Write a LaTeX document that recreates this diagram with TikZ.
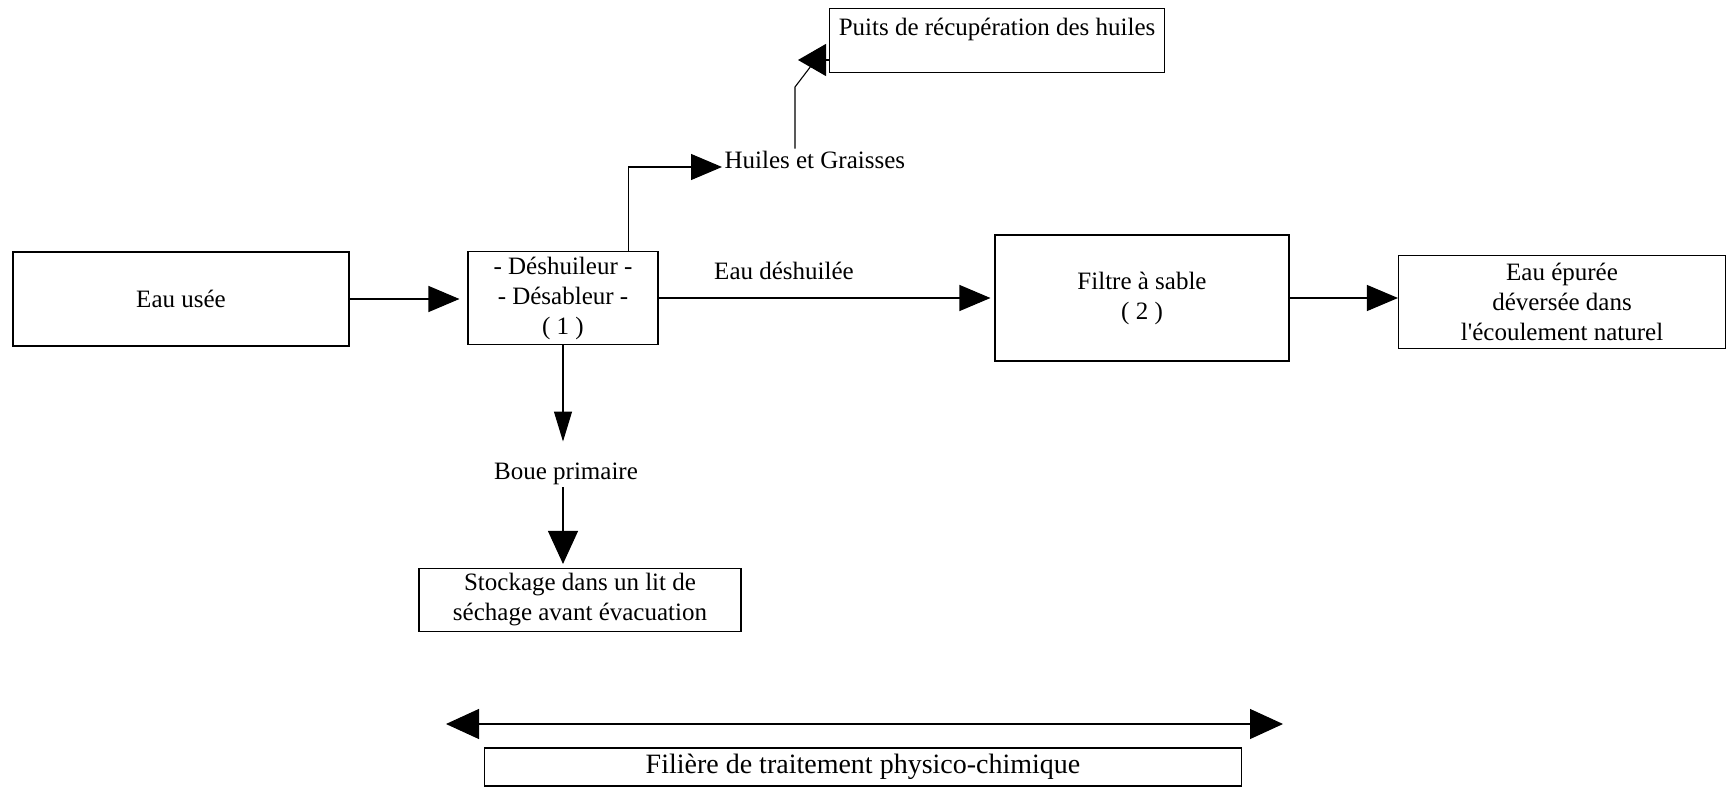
\documentclass[tikz,border=0pt]{standalone}
\usepackage{fontspec}
\setmainfont{Liberation Serif}
\usetikzlibrary{arrows.meta}

\begin{document}
\begin{tikzpicture}[x=1pt, y=-1pt, line width=1.1pt,
    font=\fontsize{25}{30}\selectfont,
    fleche/.style={-{Triangle[length=31pt, width=26pt]}},
    boite/.style={draw, inner sep=0pt, align=center},
    etiq/.style={inner sep=2pt}]
  \useasboundingbox (0,0) rectangle (1727,789);
  % blocs
  \node[boite, minimum width=336pt, minimum height=94pt] (usee) at (181,299) {Eau usée};
  \node[boite, minimum width=190pt, minimum height=93pt] (desh) at (563,298) {- Déshuileur -\\- Désableur -\\( 1 )};
  \node[boite, minimum width=294pt, minimum height=126pt] (filtre) at (1142,298) {Filtre à sable\\( 2 )};
  \node[boite, minimum width=327pt, minimum height=93pt] (epure) at (1562,302)
    {Eau épurée\\déversée dans\\l\textquotesingle écoulement naturel};
  \node[boite, anchor=north west, minimum width=335pt, text height=27pt, text depth=37pt] (puits) at (829,8)
    {Puits de récupération des huiles};
  \node[boite, minimum width=322pt, minimum height=63pt] (stock) at (580,600)
    {Stockage dans un lit de\\séchage avant évacuation};
  \node[boite, minimum width=757pt, minimum height=38pt, font=\fontsize{28}{33}\selectfont] (filiere) at (863,767)
    {Filière de traitement physico-chimique};
  % etiquettes
  \node[etiq] (edesh) at (784,271) {Eau déshuilée};
  \node[etiq, anchor=west] (hg) at (722,160) {Huiles et Graisses};
  \node[etiq] (boue) at (566,474) {Boue primaire};
  % liaisons
  \draw[fleche, shorten >=8pt] (usee.east) -- (usee.east -| desh.west);
  \draw[fleche, shorten >=4pt] (desh.east) -- (desh.east -| filtre.west);
  \draw[fleche] (filtre.east) -- (filtre.east -| epure.west);
  \draw[fleche] ([xshift=-30pt]desh.north east) |- ([yshift=-7pt]hg.west);
  \coordinate (coude) at (795,87);
  \coordinate (pointe) at (798,60);
  \draw (hg.north -| coude) -- (coude) -- (811,66);
  \draw[{Triangle[length=28pt, width=32pt]}-] (pointe) -- (pointe -| puits.west);
  \draw[-{Triangle[length=30pt, width=18pt]}, shorten >=19pt] (desh.south) -- (desh.south |- boue.north);
  \draw[-{Triangle[length=33pt, width=30pt]}, shorten >=4pt] (boue.south -| desh.south) -- (desh.south |- stock.north);
  \coordinate (fg) at (446,724);
  \coordinate (fd) at (1283,724);
  \draw[{Triangle[length=33pt, width=30pt]}-{Triangle[length=33pt, width=30pt]}] (fg) -- (fd);
\end{tikzpicture}
\end{document}
